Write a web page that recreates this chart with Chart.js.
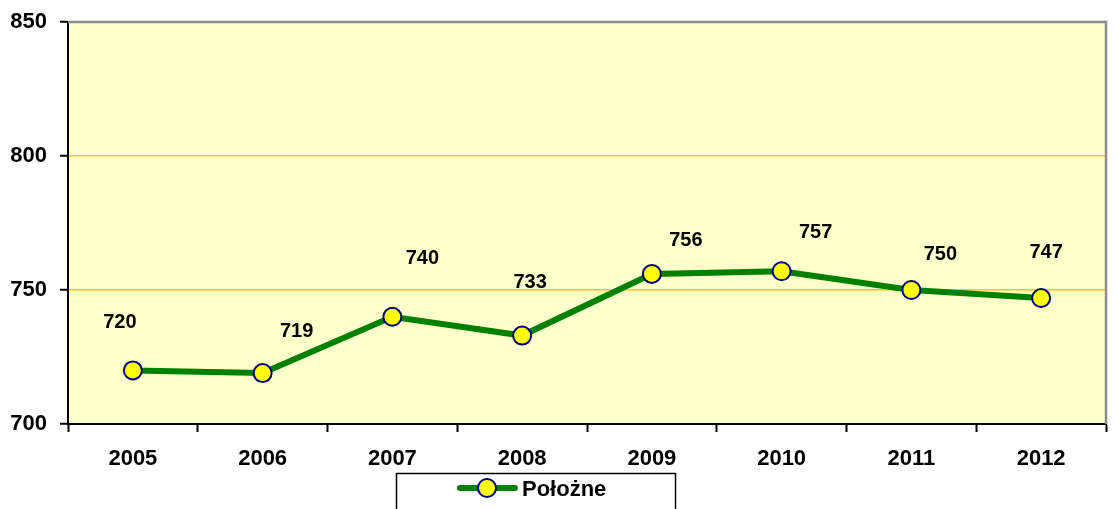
<!DOCTYPE html>
<html>
<head>
<meta charset="utf-8">
<script src="https://cdn.jsdelivr.net/npm/chart.js@4/dist/chart.umd.min.js"></script>
<style>
  html, body { margin: 0; padding: 0; background: #fff; }
  #wrap { width: 1118px; height: 509px; position: relative; }
</style>
</head>
<body>
<div id="wrap"><canvas id="myChart"></canvas></div>
<script>
// data
var years = ['2005', '2006', '2007', '2008', '2009', '2010', '2011', '2012'];
var polozne = [720, 719, 740, 733, 756, 757, 750, 747];
var yTicks = [700, 750, 800, 850];

// where excel left each value label, relative to its point (dx, dy)
var labelShift = [[-13, -48], [34, -42], [30, -58], [8, -53], [34, -33], [34, -39], [29, -36], [5, -46]];

var FONT = 'Liberation Sans, Arial, sans-serif';

// yellow plot area + grey frame on top/right
var plotBg = {
  id: 'plotBg',
  beforeDraw: function(chart) {
    var a = chart.chartArea, c = chart.ctx;
    c.save();
    c.fillStyle = '#FFFFCC';
    c.fillRect(a.left, a.top, a.right - a.left, a.bottom - a.top);
    c.restore();
  },
  afterDraw: function(chart) {
    var a = chart.chartArea, c = chart.ctx;
    c.save();
    c.strokeStyle = '#8c8c8c';
    c.lineWidth = 2.5;
    c.beginPath();
    c.moveTo(a.left, a.top);
    c.lineTo(a.right, a.top);
    c.lineTo(a.right, a.bottom);
    c.stroke();
    c.restore();
  }
};

// value labels above the points
var valueLabels = {
  id: 'valueLabels',
  afterDatasetsDraw: function(chart) {
    var c = chart.ctx;
    var meta = chart.getDatasetMeta(0);
    c.save();
    c.font = 'bold 20px ' + FONT;
    c.fillStyle = '#000';
    c.textAlign = 'center';
    c.textBaseline = 'middle';
    meta.data.forEach(function(pt, i) {
      var s = labelShift[i];
      c.fillText(String(chart.data.datasets[0].data[i]), pt.x + s[0], pt.y + s[1]);
    });
    c.restore();
  }
};

// legend box at the bottom (cut off like the original)
var boxLegend = {
  id: 'boxLegend',
  afterDraw: function(chart) {
    var c = chart.ctx, ds = chart.data.datasets[0];
    c.save();
    c.strokeStyle = '#000';
    c.lineWidth = 1.5;
    c.strokeRect(396.5, 473.5, 279, 60);
    c.strokeStyle = ds.borderColor;
    c.lineWidth = 6;
    c.lineCap = 'round';
    c.beginPath();
    c.moveTo(460, 488);
    c.lineTo(515, 488);
    c.stroke();
    c.beginPath();
    c.arc(487, 488, 9, 0, Math.PI * 2);
    c.fillStyle = ds.pointBackgroundColor;
    c.fill();
    c.lineWidth = 2;
    c.strokeStyle = ds.pointBorderColor;
    c.stroke();
    c.font = 'bold 22px ' + FONT;
    c.fillStyle = '#000';
    c.textBaseline = 'middle';
    c.fillText(ds.label, 522, 490);
    c.restore();
  }
};

var ctx = document.getElementById('myChart').getContext('2d');
var myChart = new Chart(ctx, {
  type: 'line',
  data: {
    labels: years,
    datasets: [{
      label: 'Położne',
      data: polozne,
      borderColor: '#008000',
      borderWidth: 6,
      pointBackgroundColor: '#FFFF00',
      pointBorderColor: '#000080',
      pointBorderWidth: 2,
      pointRadius: 9,
      tension: 0
    }]
  },
  plugins: [plotBg, valueLabels, boxLegend],
  options: {
    responsive: true,
    maintainAspectRatio: false,
    animation: false,
    layout: { padding: { top: 22, right: 12, left: 0, bottom: 0 } },
    plugins: {
      legend: { display: false },
      tooltip: { enabled: false }
    },
    scales: {
      x: {
        offset: true,
        afterFit: function(s) { s.height = 85; },
        grid: {
          offset: true,
          drawOnChartArea: false,
          drawTicks: true,
          tickLength: 8,
          tickColor: '#000',
          tickWidth: 2
        },
        border: { color: '#000', width: 2 },
        ticks: {
          color: '#000',
          padding: 14,
          font: { family: FONT, size: 22, weight: 'bold' }
        }
      },
      y: {
        min: 700,
        max: 850,
        afterFit: function(s) {
          s.width = 68;
          s.paddingTop = 0;
          s.paddingBottom = 0;
        },
        afterBuildTicks: function(s) {
          s.ticks = yTicks.map(function(v) { return { value: v }; });
        },
        grid: {
          color: function(c) {
            if (c.tick && c.tick.value === 850) return 'rgba(0,0,0,0)';
            return '#FFCC00';
          },
          lineWidth: 1.5,
          drawTicks: true,
          tickLength: 8,
          tickColor: '#000',
          tickWidth: 2
        },
        border: { color: '#000', width: 2 },
        ticks: {
          color: '#000',
          padding: 13,
          font: { family: FONT, size: 22, weight: 'bold' }
        }
      }
    }
  }
});
</script>
</body>
</html>
